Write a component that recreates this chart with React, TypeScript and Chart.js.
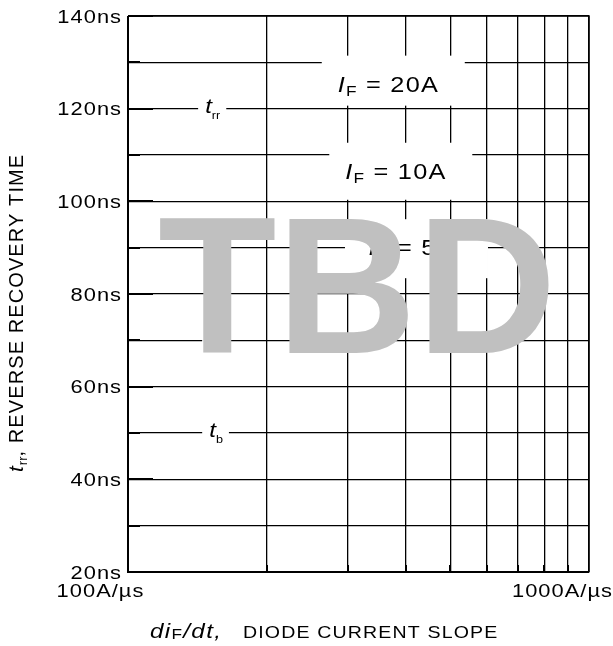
import React, { useEffect, useRef } from "react";
import { Chart, registerables } from "chart.js";

Chart.register(...registerables);

// ---- data ----
const X_MIN = 100; // A/µs
const X_MAX = 1000;
const Y_MIN = 20; // ns
const Y_MAX = 140;
const Y_STEP = 10;
const Y_LABEL_STEP = 20;
const X_GRID = [100, 200, 300, 400, 500, 600, 700, 800, 900, 1000];
const X_MINOR_TICKS = [200, 300, 400, 500, 600, 700, 800, 900];
const X_TICK_LABELS = ["100A/µs", "1000A/µs"];

const currentNames = ["20A", "10A", "5A"];
const currentLabelX = [366, 380, 411]; // A/µs
const currentLabelY = [125.4, 106.6, 90.1]; // ns

const timeSubscripts = ["rr", "a", "b"];
const timeLabelX = [147, 150, 150]; // A/µs
const timeLabelY = [120, 70, 50]; // ns

const WATERMARK = "TBD";

// ---- styles ----
const FONT = '"Liberation Sans", Arial, sans-serif';
const STRETCH = 1.15;
const BOX_LEFT = -66;
const BOX_RIGHT = 77;
const BOX_TOP = -28;
const BOX_BOTTOM = [22, 29, 31];

type Part = { t: string; font: string; dy?: number; ls?: number };

function measureParts(ctx: CanvasRenderingContext2D, parts: Part[], sx: number) {
  let w = 0;
  for (const p of parts) {
    ctx.font = p.font;
    (ctx as any).letterSpacing = (p.ls ?? 0) + "px";
    w += ctx.measureText(p.t).width;
  }
  const last = parts[parts.length - 1];
  return (w - (last.ls ?? 0)) * sx;
}

function drawParts(
  ctx: CanvasRenderingContext2D,
  parts: Part[],
  x: number,
  y: number,
  align: "left" | "center" | "right",
  sx: number = STRETCH
) {
  const w = measureParts(ctx, parts, sx);
  const start = align === "left" ? x : align === "center" ? x - w / 2 : x - w;
  ctx.save();
  ctx.translate(start, y);
  ctx.scale(sx, 1);
  ctx.textAlign = "left";
  ctx.textBaseline = "alphabetic";
  let cx = 0;
  for (const p of parts) {
    ctx.font = p.font;
    (ctx as any).letterSpacing = (p.ls ?? 0) + "px";
    ctx.fillText(p.t, cx, p.dy ?? 0);
    cx += ctx.measureText(p.t).width;
  }
  (ctx as any).letterSpacing = "0px";
  ctx.restore();
  return w;
}

const decorPlugin = {
  id: "decor",
  afterDraw(chart: any) {
    const ctx: CanvasRenderingContext2D = chart.ctx;
    const xs = chart.scales.x;
    const ys = chart.scales.y;
    const { left, right, top, bottom } = chart.chartArea;
    ctx.save();
    ctx.fillStyle = "#000";
    ctx.strokeStyle = "#000";

    // frame
    ctx.lineWidth = 2;
    ctx.beginPath();
    ctx.moveTo(left, top);
    ctx.lineTo(left, bottom);
    ctx.lineTo(right, bottom);
    ctx.stroke();
    ctx.lineWidth = 1.5;
    ctx.beginPath();
    ctx.moveTo(left, top);
    ctx.lineTo(right, top);
    ctx.lineTo(right, bottom);
    ctx.stroke();

    // inward ticks on y
    ctx.lineWidth = 2;
    for (let v = Y_MIN; v <= Y_MAX; v += Y_STEP) {
      const py = Math.round(ys.getPixelForValue(v));
      const len = v % Y_LABEL_STEP === 0 ? 25 : 12;
      ctx.beginPath();
      ctx.moveTo(left, py);
      ctx.lineTo(left + len, py);
      ctx.stroke();
    }
    // inward ticks on x
    for (const v of X_MINOR_TICKS) {
      const px = Math.round(xs.getPixelForValue(v));
      ctx.beginPath();
      ctx.moveTo(px, bottom);
      ctx.lineTo(px, bottom - 7);
      ctx.stroke();
    }

    // y tick labels
    for (let v = Y_MIN; v <= Y_MAX; v += Y_LABEL_STEP) {
      const py = ys.getPixelForValue(v);
      drawParts(ctx, [{ t: v + "ns", font: `19px ${FONT}`, ls: 0.9 }], left - 7, py + 6.5, "right");
    }
    // x tick labels
    drawParts(ctx, [{ t: X_TICK_LABELS[0], font: `19px ${FONT}`, ls: 0.9 }], xs.getPixelForValue(X_MIN) - 28, bottom + 25, "center");
    drawParts(ctx, [{ t: X_TICK_LABELS[1], font: `19px ${FONT}`, ls: 0.9 }], xs.getPixelForValue(X_MAX) + 23, bottom + 25, "right");

    // x title
    drawParts(
      ctx,
      [
        { t: "di", font: `italic 21px ${FONT}`, ls: 1.2 },
        { t: "F", font: `15px ${FONT}`, dy: 1, ls: 1 },
        { t: "/dt,", font: `italic 21px ${FONT}`, ls: 1.2 },
      ],
      left + 22,
      bottom + 66,
      "left"
    );
    drawParts(ctx, [{ t: "DIODE CURRENT SLOPE", font: `17px ${FONT}`, ls: 1.0 }], left + 115, bottom + 66, "left");

    // y title (rotated)
    ctx.save();
    ctx.translate(23, ys.getPixelForValue(Y_MIN) - 100);
    ctx.rotate(-Math.PI / 2);
    drawParts(
      ctx,
      [
        { t: "t", font: `italic 21px ${FONT}`, ls: 1 },
        { t: "rr", font: `13px ${FONT}`, dy: 4, ls: 0 },
        { t: ", REVERSE RECOVERY TIME", font: `20px ${FONT}`, ls: 1.1 },
      ],
      0,
      0,
      "left",
      1
    );
    ctx.restore();

    // current labels with white boxes
    for (let i = 0; i < currentNames.length; i++) {
      const cx = xs.getPixelForValue(currentLabelX[i]);
      const cy = ys.getPixelForValue(currentLabelY[i]);
      ctx.fillStyle = "#fff";
      ctx.fillRect(cx + BOX_LEFT, cy + BOX_TOP, BOX_RIGHT - BOX_LEFT, BOX_BOTTOM[i] - BOX_TOP);
      ctx.fillStyle = "#000";
      drawParts(
        ctx,
        [
          { t: "I", font: `italic 22px ${FONT}`, ls: 1.1 },
          { t: "F", font: `15px ${FONT}`, dy: 4, ls: 1.1 },
          { t: " = " + currentNames[i], font: `22px ${FONT}`, ls: 1.1 },
        ],
        cx,
        cy + 8,
        "center"
      );
    }

    // t labels
    for (let i = 0; i < timeSubscripts.length; i++) {
      const px = xs.getPixelForValue(timeLabelX[i]);
      const py = ys.getPixelForValue(timeLabelY[i]);
      const parts: Part[] = [
        { t: "t", font: `italic 21px ${FONT}` },
        { t: timeSubscripts[i], font: `11px ${FONT}`, dy: 6 },
      ];
      const w = measureParts(ctx, parts, STRETCH);
      ctx.fillStyle = "#fff";
      ctx.fillRect(px - 7, py - 3, w + 13, 6);
      ctx.fillStyle = "#000";
      drawParts(ctx, parts, px, py + 4, "left");
    }

    // watermark
    ctx.fillStyle = "#c0c0c0";
    ctx.font = `bold 194px ${FONT}`;
    ctx.textAlign = "left";
    ctx.textBaseline = "alphabetic";
    ctx.fillText(WATERMARK, left + 30, top + 337);

    ctx.restore();
  },
};

export default function App() {
  const ref = useRef<HTMLCanvasElement>(null);
  useEffect(() => {
    if (!ref.current) return;
    const gridOpts = { color: "#000", lineWidth: 1.3, drawTicks: false };
    const chart = new Chart(ref.current, {
      type: "scatter",
      data: { datasets: [{ data: [], showLine: false }] },
      options: {
        animation: false,
        responsive: false,
        maintainAspectRatio: false,
        layout: { padding: { left: 128, right: 24, top: 16, bottom: 74 } },
        plugins: { legend: { display: false }, tooltip: { enabled: false } },
        scales: {
          x: {
            type: "logarithmic",
            min: X_MIN,
            max: X_MAX,
            ticks: { display: false },
            afterBuildTicks: (scale: any) => {
              scale.ticks = X_GRID.map((v) => ({ value: v, major: v === X_MIN || v === X_MAX }));
            },
            grid: gridOpts,
            border: { color: "#000", width: 1 },
          },
          y: {
            type: "linear",
            min: Y_MIN,
            max: Y_MAX,
            ticks: { display: false, stepSize: Y_STEP },
            grid: gridOpts,
            border: { color: "#000", width: 1 },
          },
        },
      },
      plugins: [decorPlugin],
    } as any);
    return () => chart.destroy();
  }, []);
  return (
    <div style={{ position: "fixed", left: 0, top: 0, width: 613, height: 646, background: "#fff" }}>
      <canvas ref={ref} width={613} height={646} style={{ width: 613, height: 646, display: "block" }} />
    </div>
  );
}
